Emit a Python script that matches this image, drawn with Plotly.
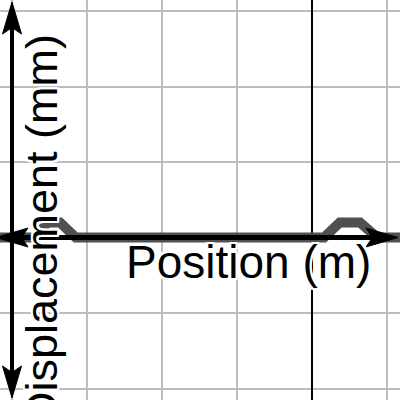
import plotly.graph_objects as go

# ---- data ----
pulse_x = [-0.3, 0.30, 0.48, 0.64, 0.85, 4.16, 4.37, 4.64, 4.87, 5.4]
pulse_y = [0, 0, 0.2, 0.2, 0, 0, 0.2, 0.2, 0, 0]
marker_line_x = 4
x_label = "Position (m)"
y_label = "Displacement (mm)"

# ---- view ----
PX_X = 75.0   # pixels per unit
PX_Y = 75.5
X0_PX = 12.0  # pixel of x=0
Y0_PX = 237.5 # pixel of y=0
W = H = 400
x_range = [-X0_PX / PX_X, (W - X0_PX) / PX_X]
y_range = [-(H - Y0_PX) / PX_Y, Y0_PX / PX_Y]


def arrow_head(tip_x, tip_y, dx, dy, length=30, width=18, notch=0.8):
    px, py = -dy, dx
    pts = [
        (0, 0),
        (-length * dx + width / 2 * px, -length * dy + width / 2 * py),
        (-notch * length * dx, -notch * length * dy),
        (-length * dx - width / 2 * px, -length * dy - width / 2 * py),
        (0, 0),
    ]
    xs = [tip_x + a / PX_X for a, b in pts]
    ys = [tip_y + b / PX_Y for a, b in pts]
    return xs, ys


fig = go.Figure()

fig.add_trace(go.Scatter(x=[marker_line_x, marker_line_x], y=[y_range[0] - 1, y_range[1] + 1],
                         mode="lines", line=dict(color="black", width=2), hoverinfo="skip"))
fig.add_trace(go.Scatter(x=pulse_x, y=pulse_y, mode="lines",
                         line=dict(color="#505050", width=10), hoverinfo="skip"))

xl = x_range[0] - 4 / PX_X
xr = x_range[1] - 2 / PX_X
fig.add_trace(go.Scatter(x=[xl + 20 / PX_X, xr - 20 / PX_X], y=[0, 0], mode="lines",
                         line=dict(color="black", width=5), hoverinfo="skip"))
yt = y_range[1] - 2 / PX_Y
yb = y_range[0] + 2 / PX_Y
fig.add_trace(go.Scatter(x=[0, 0], y=[yb + 20 / PX_Y, yt - 20 / PX_Y], mode="lines",
                         line=dict(color="black", width=4), hoverinfo="skip"))

for (tx, ty, dx, dy) in [(xl, 0, -1, 0), (xr, 0, 1, 0), (0, yt, 0, 1), (0, yb, 0, -1)]:
    ax, ay = arrow_head(tx, ty, dx, dy, length=32, width=19)
    fig.add_trace(go.Scatter(x=ax, y=ay, mode="lines", fill="toself", fillcolor="black",
                             line=dict(color="black", width=1), hoverinfo="skip"))

halo = ", ".join(f"{a}px {b}px 0 white" for a in (-2, 0, 2) for b in (-2, 0, 2))
font_x = dict(family="Liberation Sans, Arial, sans-serif", size=46, color="black", shadow=halo)
font_y = dict(family="Liberation Sans, Arial, sans-serif", size=45, color="black", shadow=halo)

fig.add_annotation(x=(248 - X0_PX) / PX_X, y=-(262 - Y0_PX) / PX_Y, text=x_label,
                   showarrow=False, xanchor="center", yanchor="middle", font=font_x)
fig.add_annotation(x=(41 - X0_PX) / PX_X, y=(Y0_PX - 229) / PX_Y, text=y_label,
                   showarrow=False, xanchor="center", yanchor="middle", textangle=-90, font=font_y)

axis_common = dict(showgrid=True, gridcolor="#bdbdbd", gridwidth=1.5, dtick=1, tick0=0,
                   zeroline=False, showticklabels=False, showline=False, ticks="", fixedrange=True)
fig.update_layout(
    width=W, height=H, autosize=False,
    margin=dict(l=0, r=0, t=0, b=0),
    paper_bgcolor="white", plot_bgcolor="white",
    showlegend=False,
    xaxis=dict(range=x_range, **axis_common),
    yaxis=dict(range=y_range, **axis_common),
)
fig.write_html("out.html", config={"displayModeBar": False})

with open("out.html", encoding="utf-8") as f:
    html = f.read()
html = html.replace("<head>", "<head><style>html,body{margin:0;padding:0;overflow:hidden;}</style>", 1)
with open("out.html", "w", encoding="utf-8") as f:
    f.write(html)
